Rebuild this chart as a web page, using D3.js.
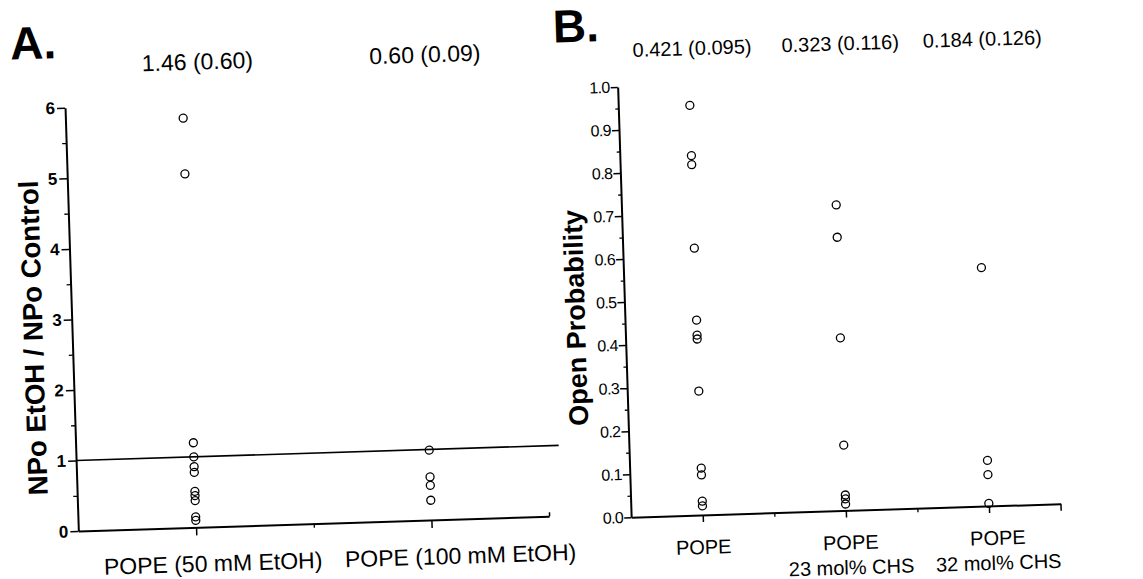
<!DOCTYPE html>
<html>
<head>
<meta charset="utf-8">
<script src="https://cdn.jsdelivr.net/npm/d3@7"></script>
<style>
body { margin: 0; background: #fff; }
svg { display: block; font-family: "Liberation Sans", Arial, Helvetica, sans-serif; }
</style>
</head>
<body>
<svg id="chart" width="1143" height="579"></svg>
<script>
// panel A : NPo ratio
let a_categories = ["POPE (50 mM EtOH)", "POPE (100 mM EtOH)"];
let a_means = ["1.46 (0.60)", "0.60 (0.09)"];
let a_ratio_50 = [5.80, 5.01, 1.20, 1.00, 0.86, 0.78, 0.51, 0.45, 0.38, 0.15, 0.10];
let a_ratio_100 = [0.99, 0.61, 0.49, 0.28];
let a_ticks = [0, 1, 2, 3, 4, 5, 6];

// panel B : open probability
let b_categories = [["POPE"], ["POPE", "23 mol% CHS"], ["POPE", "32 mol% CHS"]];
let b_means = ["0.421 (0.095)", "0.323 (0.116)", "0.184 (0.126)"];
let b_pope = [0.952, 0.835, 0.814, 0.620, 0.453, 0.418, 0.409, 0.288, 0.109, 0.093, 0.032, 0.021];
let b_chs23 = [0.710, 0.635, 0.401, 0.152, 0.036, 0.027, 0.015];
let b_chs32 = [0.554, 0.106, 0.073, 0.006];
let b_ticks = [0, 0.1, 0.2, 0.3, 0.4, 0.5, 0.6, 0.7, 0.8, 0.9, 1.0];

const FONT = "Liberation Sans, Arial, Helvetica, sans-serif";

let svg = d3.select("#chart");
// the scanned figure sits slightly tilted
let root = svg.append("g").attr("transform", "rotate(-1.8, 571, 290)");

function style_axis(g, size, weight) {
    g.attr("font-family", FONT).attr("font-size", size);
    g.select(".domain").attr("stroke", "#000").attr("stroke-width", 2);
    g.selectAll(".tick line").attr("stroke", "#000").attr("stroke-width", 1.5);
    g.selectAll(".tick text").attr("fill", "#000").attr("font-weight", weight);
}

function add_points(g, x, y, cat, values) {
    g.selectAll(null)
        .data(values)
        .enter().append("circle")
            .attr("cx", x(cat))
            .attr("cy", d => y(d))
            .attr("r", 4)
            .attr("fill", "none")
            .attr("stroke", "#000")
            .attr("stroke-width", 1.3);
}

function plot_a() {
    let x = d3.scaleLinear().domain([0.5, 2.5]).range([71, 542]);
    let y = d3.scaleLinear().domain([0, 6]).range([515.5, 92]);
    let g = root.append("g");

    // y axis with half-unit minor ticks
    g.append("g")
        .attr("transform", `translate(${x(0.5)},0)`)
        .call(d3.axisLeft(y).tickValues(a_ticks.slice(0, -1).map(d => d + 0.5)).tickSize(4).tickFormat(""))
        .call(s => s.select(".domain").remove())
        .call(s => s.selectAll("line").attr("stroke", "#000").attr("stroke-width", 1.3));
    g.append("g")
        .attr("transform", `translate(${x(0.5)},0)`)
        .call(d3.axisLeft(y).tickValues(a_ticks).tickSize(8).tickPadding(2).tickSizeOuter(0).tickFormat(d3.format("d")))
        .call(s => style_axis(s, 17, "bold"));

    // x axis
    let base = y(0);
    g.append("g")
        .attr("transform", `translate(0,${base})`)
        .call(d3.axisBottom(x).tickValues([1.5]).tickSize(4).tickFormat(""))
        .call(s => s.select(".domain").remove())
        .call(s => s.selectAll("line").attr("stroke", "#000").attr("stroke-width", 1.3));
    g.append("g")
        .attr("transform", `translate(0,${base})`)
        .call(d3.axisBottom(x).tickValues([2.5]).tickSize(-4).tickFormat(""))
        .call(s => s.select(".domain").remove())
        .call(s => s.selectAll("line").attr("stroke", "#000").attr("stroke-width", 1.5));
    g.append("g")
        .attr("transform", `translate(0,${base})`)
        .call(d3.axisBottom(x).tickValues([1, 2]).tickSize(8).tickSizeOuter(0).tickFormat(""))
        .call(s => style_axis(s, 16, "normal"));

    // reference line at ratio 1
    g.append("line")
        .attr("x1", x(0.5)).attr("x2", x(2.55))
        .attr("y1", y(1)).attr("y2", y(1))
        .attr("stroke", "#000").attr("stroke-width", 1.6);

    add_points(g, x, y, 1, a_ratio_50);
    add_points(g, x, y, 2, a_ratio_100);

    let label_nudge = [16, 28];
    g.selectAll(null).data(a_categories).enter().append("text")
        .attr("x", (d, i) => x(i + 1) + label_nudge[i])
        .attr("y", 560)
        .attr("text-anchor", "middle")
        .attr("font-size", 23)
        .text(d => d);

    let mean_nudge = [16, 8];
    g.selectAll(null).data(a_means).enter().append("text")
        .attr("x", (d, i) => x(i + 1) + mean_nudge[i])
        .attr("y", 58)
        .attr("text-anchor", "middle")
        .attr("font-size", 23)
        .text(d => d);

    g.append("text")
        .attr("x", 18).attr("y", 42)
        .attr("font-size", 46).attr("font-weight", "bold")
        .text("A.");

    g.append("text")
        .attr("transform", "translate(41.5,321) rotate(-90)")
        .attr("text-anchor", "middle")
        .attr("font-size", 27.5).attr("font-weight", "bold")
        .text("NPo EtOH / NPo Control");
}

function plot_b() {
    let x = d3.scaleLinear().domain([0.5, 3.5]).range([624, 1053.5]);
    let y = d3.scaleLinear().domain([0, 1]).range([519, 88.5]);
    let g = root.append("g");

    g.append("g")
        .attr("transform", `translate(${x(0.5)},0)`)
        .call(d3.axisLeft(y).tickValues(b_ticks.slice(0, -1).map(d => d + 0.05)).tickSize(3).tickFormat(""))
        .call(s => s.select(".domain").remove())
        .call(s => s.selectAll("line").attr("stroke", "#000").attr("stroke-width", 1.3));
    g.append("g")
        .attr("transform", `translate(${x(0.5)},0)`)
        .call(d3.axisLeft(y).tickValues(b_ticks).tickSize(7).tickPadding(1).tickSizeOuter(0).tickFormat(d3.format(".1f")))
        .call(s => style_axis(s, 16, "normal"))
        .call(s => s.selectAll(".tick text").attr("letter-spacing", -0.6));

    let base = y(0);
    g.append("g")
        .attr("transform", `translate(0,${base})`)
        .call(d3.axisBottom(x).tickValues([1.5, 2.5]).tickSize(4).tickFormat(""))
        .call(s => s.select(".domain").remove())
        .call(s => s.selectAll("line").attr("stroke", "#000").attr("stroke-width", 1.3));
    g.append("g")
        .attr("transform", `translate(0,${base})`)
        .call(d3.axisBottom(x).tickValues([1, 2, 3, 3.5]).tickSize(7).tickSizeOuter(0).tickFormat(""))
        .call(s => style_axis(s, 16, "normal"));

    add_points(g, x, y, 1, b_pope);
    add_points(g, x, y, 2, b_chs23);
    add_points(g, x, y, 3, b_chs32);

    let label_nudge = [0, 4, 8];
    let labels = g.selectAll(null).data(b_categories).enter().append("text")
        .attr("text-anchor", "middle")
        .attr("font-size", 20);
    labels.selectAll("tspan")
        .data((d, i) => d.map(t => ({t: t, i: i})))
        .enter().append("tspan")
            .attr("x", d => x(d.i + 1) + label_nudge[d.i])
            .attr("y", (d, j) => 558 + j * 25)
            .text(d => d.t);

    let mean_nudge = [4, 9, 8];
    g.selectAll(null).data(b_means).enter().append("text")
        .attr("x", (d, i) => x(i + 1) + mean_nudge[i])
        .attr("y", 59)
        .attr("text-anchor", "middle")
        .attr("font-size", 20)
        .text(d => d);

    g.append("text")
        .attr("x", 561).attr("y", 42)
        .attr("font-size", 46).attr("font-weight", "bold")
        .text("B.");

    g.append("text")
        .attr("transform", "translate(584,318) rotate(-90)")
        .attr("text-anchor", "middle")
        .attr("font-size", 27).attr("font-weight", "bold")
        .text("Open Probability");
}

plot_a();
plot_b();
</script>
</body>
</html>
